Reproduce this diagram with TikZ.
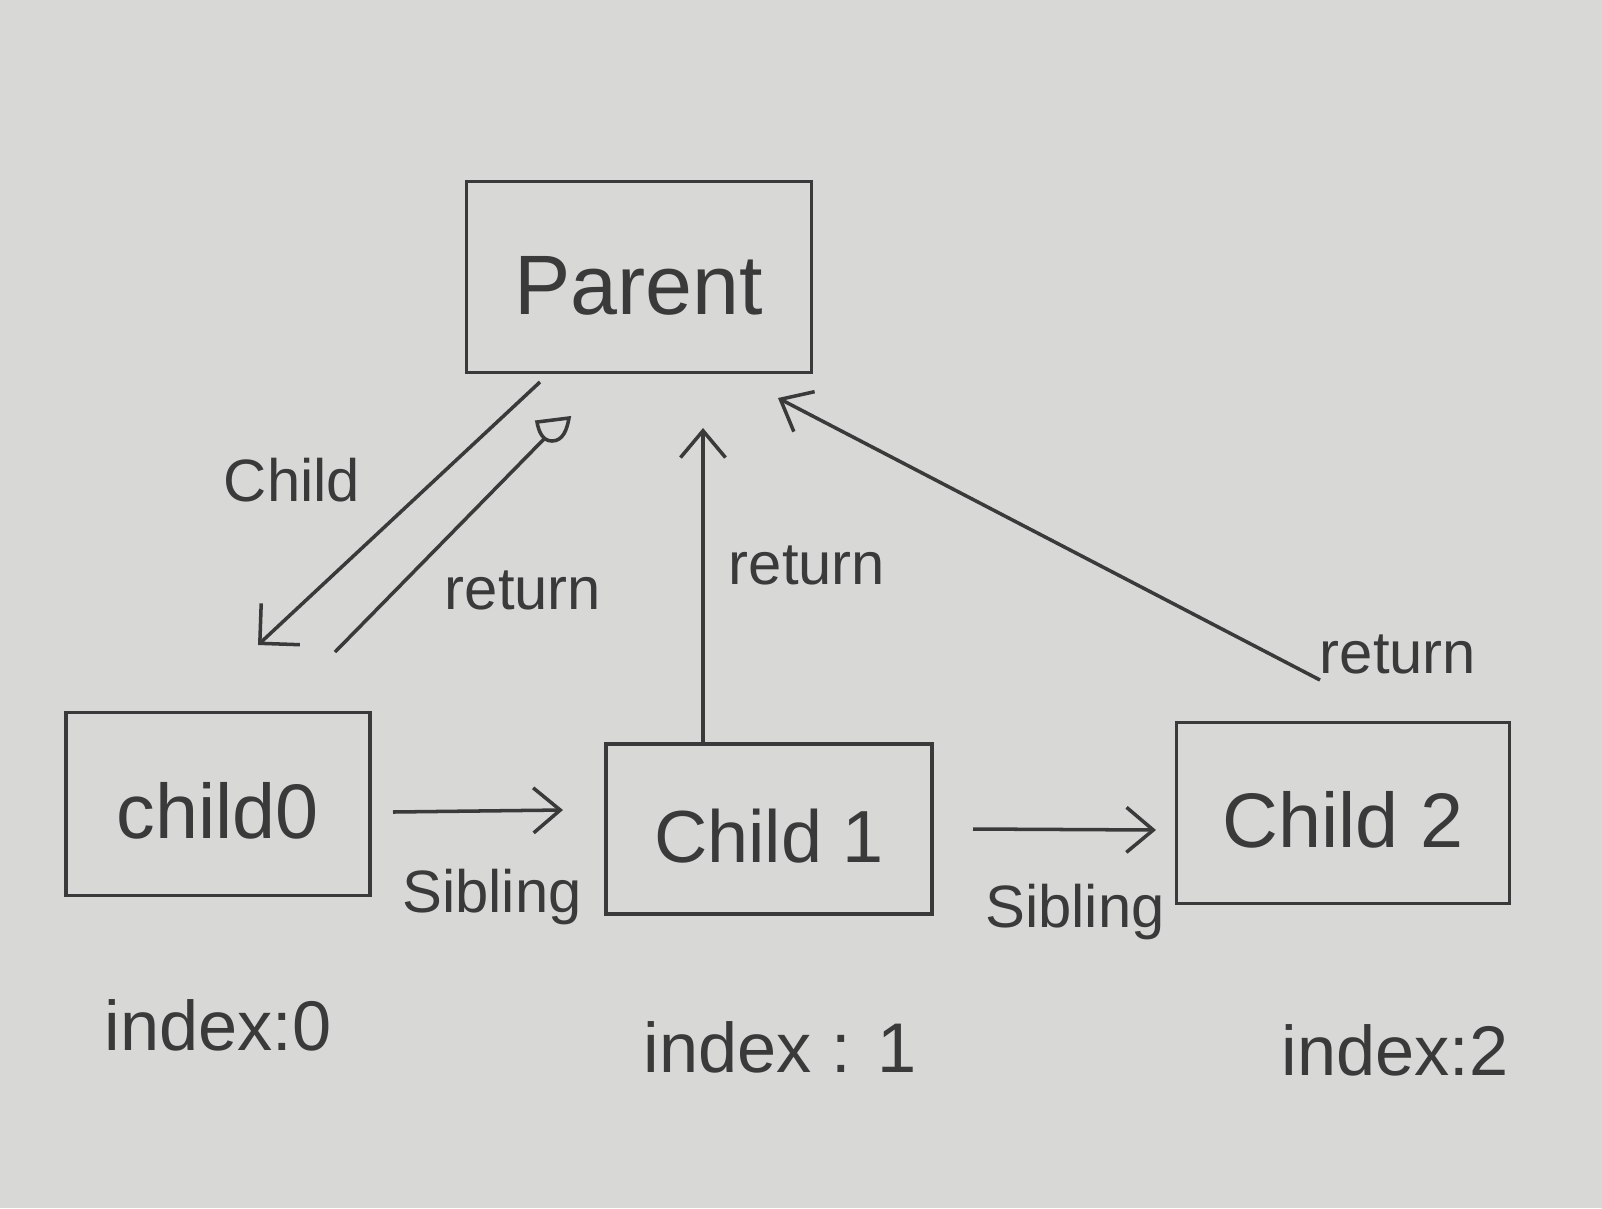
\documentclass[tikz,border=0pt]{standalone}
\usepackage{fontspec}
\setmainfont{Liberation Sans}
\usetikzlibrary{arrows.meta}
\definecolor{paper}{RGB}{216,216,214}
\definecolor{ink}{RGB}{58,58,58}
\tikzset{
  box/.style={draw=ink, line width=1pt, inner sep=0pt, text=ink},
  lbl/.style={text=ink, inner sep=0pt, font=\fontsize{17}{20}\selectfont},
  idx/.style={text=ink, inner sep=0pt, font=\fontsize{20}{24}\selectfont},
  link/.style={draw=ink, line width=1pt},
  barb/.style={-{Straight Barb[angle=80:3.5mm]}},
}
\begin{document}
\begin{tikzpicture}[x=0.01cm, y=-0.01cm]
\fill[paper] (0,0) rectangle (1602,1208);
\useasboundingbox (0,0) rectangle (1602,1208);

% boxes
\node[box, minimum width=3.45cm, minimum height=1.91cm, font=\fontsize{24}{28}\selectfont, text height=0.9cm, text depth=0.15cm] (parent) at (639,277) {Parent};
\node[box, minimum width=3.04cm, minimum height=1.83cm, font=\fontsize{22}{26}\selectfont, text height=0.8cm, text depth=0.12cm] (c0) at (218,804) {child0};
\node[box, minimum width=3.26cm, minimum height=1.70cm, font=\fontsize{21}{25}\selectfont, text height=0.78cm, text depth=0.12cm] (c1) at (769,829) {Child 1};
\node[box, minimum width=3.33cm, minimum height=1.81cm, font=\fontsize{22}{26}\selectfont, text height=0.8cm, text depth=0.12cm] (c2) at (1343,813) {Child 2};

% index labels
\node[idx] (i0) at (218,1025) {index:0};
\node[idx] (i1) at (780,1047) {index : 1};
\node[idx] (i2) at (1395,1050) {index:2};

% connector end points
\coordinate (chS) at (540,382);
\coordinate (chE) at (258,645);
\coordinate (r0S) at (335,652);
\coordinate (r0E) at (545,438);
\coordinate (r1E) at (703,428);
\coordinate (r2S) at (1320,680);
\coordinate (r2E) at (778,398);
\coordinate (s1S) at (393,812);
\coordinate (s1E) at (563,810);
\coordinate (s2S) at (973,829);
\coordinate (s2E) at (1156,830);

% Child arrow (parent -> child0)
\draw[link, -{Straight Barb[angle=90:4mm]}] (chS) -- (chE);
% return from child0 with round end marker
\draw[link] (r0S) -- (r0E);
\draw[link] (537,422) to[out=-80,in=180] (552,441) to[out=0,in=-100] (569,418) -- cycle;
% return from child1
\draw[link, barb] (c1.north -| r1E) -- (r1E);
% return from child2
\draw[link, barb] (r2S) -- (r2E);
% sibling arrows
\draw[link, barb] (s1S) -- (s1E);
\draw[link, barb] (s2S) -- (s2E);

% labels
\node[lbl] (lChild) at (292,480) {Child};
\node[lbl] (lr0) at (523,590) {return};
\node[lbl] (lr1) at (807,565) {return};
\node[lbl] (lr2) at (1398,654) {return};
\node[lbl] (ls1) at (492,897) {Sibling};
\node[lbl] (ls2) at (1075,912) {Sibling};
\end{tikzpicture}
\end{document}
